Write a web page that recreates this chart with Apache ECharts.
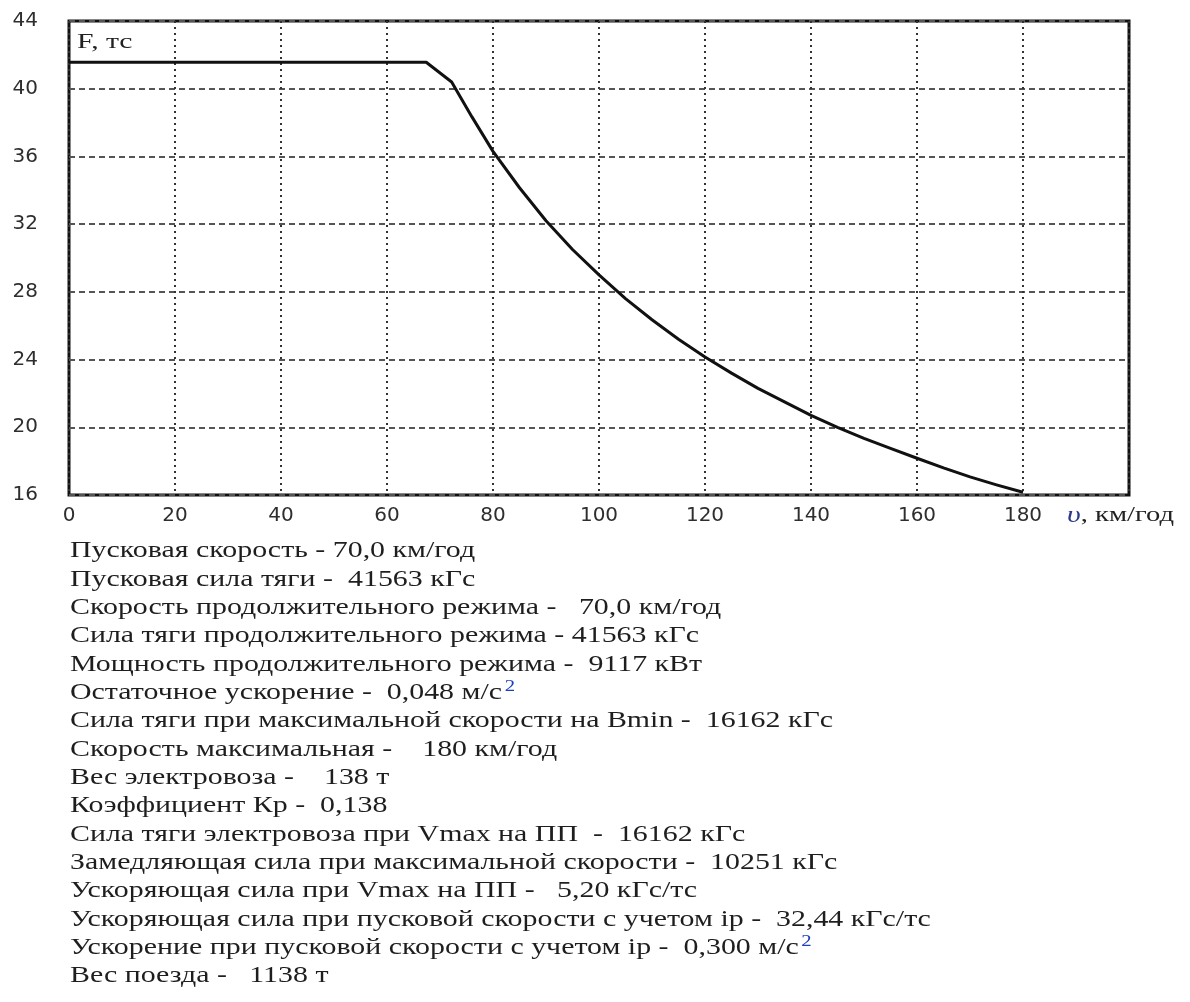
<!DOCTYPE html>
<html>
<head>
<meta charset="utf-8">
<script src="https://cdn.jsdelivr.net/npm/echarts@6/dist/echarts.min.js"></script>
<style>html,body{margin:0;padding:0;background:#fff}#c{width:1190px;height:1002px}</style>
</head>
<body>
<div id="c"></div>
<script>
// speed, km/h
const speed = [0, 67.4, 72.2, 76, 80, 85, 90, 95, 100, 105, 110, 115, 120, 125, 130, 135, 140, 145, 150, 155, 160, 165, 170, 175, 180];
// traction force, tf
const force = [41.56, 41.56, 40.4, 38.35, 36.3, 34.15, 32.2, 30.5, 29.0, 27.6, 26.35, 25.2, 24.15, 23.2, 22.3, 21.5, 20.7, 20.0, 19.35, 18.75, 18.17, 17.6, 17.07, 16.6, 16.16];
const xTicks = [0, 20, 40, 60, 80, 100, 120, 140, 160, 180];
const yTicks = [16, 20, 24, 28, 32, 36, 40, 44];
const yAxisTitle = 'F, тс';
const xAxisTitle = 'км/год';
const infoLines = [
  'Пусковая скорость - 70,0 км/год',
  'Пусковая сила тяги -  41563 кГс',
  'Скорость продолжительного режима -   70,0 км/год',
  'Сила тяги продолжительного режима - 41563 кГс',
  'Мощность продолжительного режима -  9117 кВт',
  'Остаточное ускорение -  0,048 м/с{sup|2}',
  'Сила тяги при максимальной скорости на Bmin -  16162 кГс',
  'Скорость максимальная -    180 км/год',
  'Вес электровоза -    138 т',
  'Коэффициент Кр -  0,138',
  'Сила тяги электровоза при Vmax на ПП  -  16162 кГс',
  'Замедляющая сила при максимальной скорости -  10251 кГс',
  'Ускоряющая сила при Vmax на ПП -   5,20 кГс/тс',
  'Ускоряющая сила при пусковой скорости с учетом ip -  32,44 кГс/тс',
  'Ускорение при пусковой скорости с учетом ip -  0,300 м/с{sup|2}',
  'Вес поезда -   1138 т'
];

const chart = echarts.init(document.getElementById('c'), null, {renderer: 'canvas'});
const data = speed.map((v, i) => [v, force[i]]);
const tickFont = {fontFamily: 'DejaVu Sans', fontSize: 20, color: '#2e2e2e'};

chart.setOption({
  animation: false,
  backgroundColor: '#fff',
  grid: {left: 69, top: 21, right: 61, bottom: 507, show: true, borderColor: '#111', borderWidth: 3, backgroundColor: 'transparent'},
  xAxis: {
    type: 'value', min: 0, max: 200, interval: 20,
    axisLine: {show: false},
    axisTick: {show: false},
    axisLabel: Object.assign({margin: 11, formatter: v => xTicks.indexOf(v) >= 0 ? String(v) : ''}, tickFont),
    splitLine: {show: true, lineStyle: {color: '#333', width: 2, type: [2, 4]}}
  },
  yAxis: {
    type: 'value', min: 16, max: 44, interval: 4,
    axisLine: {show: false},
    axisTick: {show: false},
    axisLabel: Object.assign({margin: 31, formatter: v => yTicks.indexOf(v) >= 0 ? String(v) : ''}, tickFont),
    splitLine: {show: true, lineStyle: {color: '#555', width: 2, type: [6, 4]}}
  },
  series: [{
    type: 'line', data: data, showSymbol: false, smooth: false,
    lineStyle: {color: '#111', width: 3, join: 'round'}, z: 5
  }],
  graphic: [
    {type: 'text', x: 77, y: 31, scaleX: 1.35, z: 10, style: {text: yAxisTitle, font: '22px "Liberation Serif"', fill: '#222', verticalAlign: 'top'}},
    {type: 'text', x: 1067, y: 504, scaleX: 1.3, z: 10, style: {
      text: '{v|υ}{t|, ' + xAxisTitle + '}', verticalAlign: 'top',
      rich: {v: {font: 'italic 23px "Liberation Serif"', fill: '#2a3a8a'}, t: {font: '22px "Liberation Serif"', fill: '#222'}}
    }},
    {type: 'text', x: 70, y: 537, scaleX: 1.3, z: 10, style: {
      text: infoLines.join('\n'), verticalAlign: 'top',
      font: '23px "Liberation Serif"', fill: '#1e1e1e', lineHeight: 28.35,
      rich: {sup: {font: '16px "Liberation Serif"', fill: '#1a3fc0', verticalAlign: 'top', lineHeight: 28.35, padding: [0, 0, 10, 2]}}
    }}
  ]
});
</script>
</body>
</html>
